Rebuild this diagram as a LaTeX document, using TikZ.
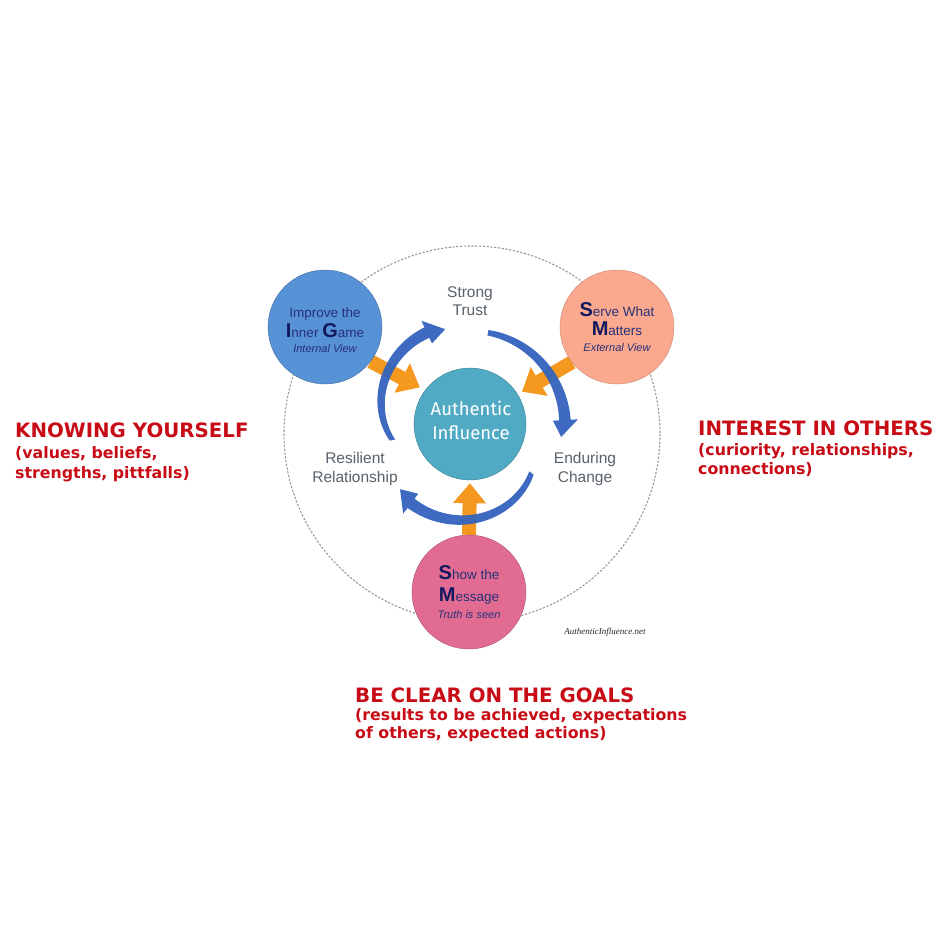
\documentclass[tikz,border=0pt]{standalone}
\usepackage{fontspec}
\setmainfont{Liberation Sans}
\newfontfamily\redfont{DejaVu Sans}
\newfontfamily\centfont{Fira Sans}
\newfontfamily\wmfont{Liberation Serif}
\usetikzlibrary{arrows.meta}
\pgfdeclarelayer{bg}
\pgfsetlayers{bg,main}
\definecolor{redtxt}{RGB}{200,12,22}
\definecolor{navy}{RGB}{38,50,120}
\definecolor{navyd}{RGB}{18,25,95}
\definecolor{circblue}{RGB}{88,146,214}
\definecolor{circsalmon}{RGB}{250,168,142}
\definecolor{circpink}{RGB}{226,108,145}
\definecolor{circteal}{RGB}{80,170,196}
\definecolor{orangearr}{RGB}{245,152,32}
\definecolor{bluearr}{RGB}{52,100,190}
\definecolor{graytxt}{RGB}{88,98,108}
\newcommand\capL[1]{{\fontsize{20}{20}\selectfont\bfseries\color{navyd}#1}}
% #1 start angle, #2 sweep, #3 start radius, #4 end radius
\newcommand\swoosh[4]{%
\fill[bluearr] plot[domain=0:1,samples=40,variable=\t]
 ({(#4-(#4-#3)*(1-\t)^2+2.8+3*\t)*cos(#1+#2*\t)},{(#4-(#4-#3)*(1-\t)^2+2.8+3*\t)*sin(#1+#2*\t)})
 -- ({(#4+13)*cos(#1+#2)},{(#4+13)*sin(#1+#2)})
 -- ({(#4-3)*cos(#1+#2+10.5)},{(#4-3)*sin(#1+#2+10.5)})
 -- ({(#4-12)*cos(#1+#2)},{(#4-12)*sin(#1+#2)})
 -- plot[domain=1:0,samples=40,variable=\t]
 ({(#4-(#4-#3)*(1-\t)^2-2.8-3*\t)*cos(#1+#2*\t)},{(#4-(#4-#3)*(1-\t)^2-2.8-3*\t)*sin(#1+#2*\t)})
 -- cycle;}
\begin{document}
\begin{tikzpicture}[x=1pt,y=-1pt,
  bigcirc/.style={circle, minimum size=114pt, inner sep=0pt, align=center, text=navy,
    font=\fontsize{13.5}{17}\selectfont},
  grayl/.style={text=graytxt, align=center, font=\fontsize{15.5}{18.5}\selectfont},
  redtitle/.style={anchor=base west, inner sep=0pt, text=redtxt, font=\redfont\bfseries\fontsize{19.8}{24}\selectfont},
  redsub/.style={anchor=base west, inner sep=0pt, text=redtxt, font=\redfont\bfseries\fontsize{15.8}{19}\selectfont},
  orangeA/.style={draw=orangearr, line width=14pt, -{Triangle[width=32pt,length=20pt]}},
  dashcirc/.style={draw=black!40, line width=1.1pt, dash pattern=on 2.2pt off 1.6pt}]
\useasboundingbox (0,0) rectangle (951,951);

% circles
\node[bigcirc, fill=circblue, draw=circblue!75!black] (inner) at (325,327)
  {\rule{0pt}{16pt}Improve the\\[3pt] \capL{I}nner \capL{G}ame\\[-2pt] {\fontsize{11}{13}\selectfont\itshape Internal View}};
\node[bigcirc, fill=circsalmon, draw=circsalmon!80!black] (serve) at (617,327)
  {\capL{S}erve What\\[2pt] \capL{M}atters\\[-1pt] {\fontsize{11}{13}\selectfont\itshape External View}};
\node[bigcirc, fill=circpink, draw=circpink!75!black] (show) at (469,592)
  {\capL{S}how the\\[5pt] \capL{M}essage\\[0pt] {\fontsize{11}{13}\selectfont\itshape Truth is seen}};
\node[circle, minimum size=112pt, inner sep=0pt, fill=circteal, draw=circteal!75!black] (center) at (470,424) {};
\node[text=white, align=center, font=\centfont\fontsize{18.5}{24}\selectfont] (ctext) at (471,420) {Authentic\\Influence};

% gray labels
\node[grayl] (trust) at (470,301) {Strong\\Trust};
\node[grayl] (resil) at (355,469) {Resilient\\Relationship};
\node[grayl] (endur) at (585,469) {Enduring\\Change};
\node[text=black!85, font=\wmfont\itshape\fontsize{9}{10}\selectfont] (wm) at (605,632) {AuthenticInfluence.net};

\begin{pgfonlayer}{bg}
\fill[white] (0,0) rectangle (951,951);
\draw[dashcirc] (472,434) circle[radius=188];
\draw[orangeA, shorten >=6pt] (inner.-37) -- (center.143.5);
\draw[orangeA, shorten >=5pt] (serve.218) -- (center.32);
\draw[orangeA, shorten >=3pt] (show.90) -- (center.270);
\begin{scope}[shift={(470,425)}, opacity=0.95]
\swoosh{169}{76}{79}{102}
\swoosh{281}{76}{94}{95}
\swoosh{38}{89}{78}{98}
\end{scope}
\end{pgfonlayer}

% red texts
\node[redtitle] (ky) at (15,437) {KNOWING YOURSELF};
\node[redsub] (ky2) at (15,458) {(values, beliefs,};
\node[redsub] (ky3) at (15,478) {strengths, pittfalls)};
\node[redtitle] (io) at (698,435) {INTEREST IN OTHERS};
\node[redsub] (io2) at (698,455) {(curiority, relationships,};
\node[redsub] (io3) at (698,474) {connections)};
\node[redtitle] (bc) at (355,702) {BE CLEAR ON THE GOALS};
\node[redsub] (bc2) at (355,720) {(results to be achieved, expectations};
\node[redsub] (bc3) at (355,738) {of others, expected actions)};
\end{tikzpicture}
\end{document}
